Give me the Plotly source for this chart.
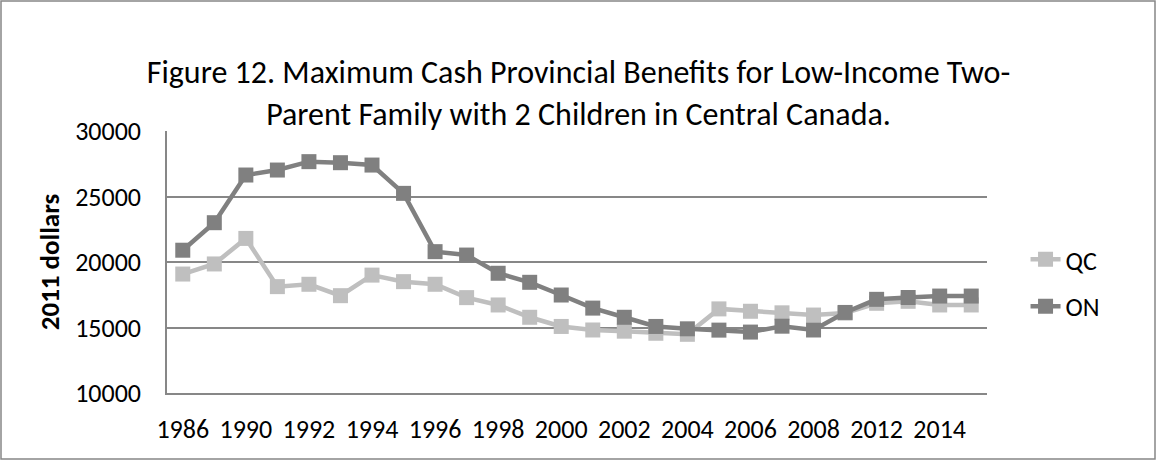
import plotly.graph_objects as go

# ── Data ───────────────────────────────────────────────────────────────────
YEARS = [
    "1986", "1988", "1990", "1991", "1992", "1993", "1994", "1995", "1996",
    "1997", "1998", "1999", "2000", "2001", "2002", "2003", "2004", "2005",
    "2006", "2007", "2008", "2010", "2012", "2013", "2014", "2015",
]
QC = [
    19080, 19850, 21800, 18120, 18300, 17430, 19000, 18500, 18300,
    17280, 16720, 15780, 15080, 14810, 14720, 14560, 14480, 16420,
    16240, 16120, 15950, 16100, 16850, 17000, 16720, 16720,
]
ON = [
    20900, 23000, 26640, 27020, 27660, 27580, 27400, 25240, 20790,
    20530, 19140, 18450, 17480, 16480, 15780, 15080, 14900, 14800,
    14650, 15100, 14810, 16150, 17150, 17290, 17400, 17400,
]
TICK_YEARS = YEARS[::2]

FONT = "Carlito, Lato, sans-serif"
QC_COL = "#bfbfbf"
ON_COL = "#808080"
AXIS_COL = "#878787"

fig = go.Figure()
for name, vals, col in [("QC", QC, QC_COL), ("ON", ON, ON_COL)]:
    fig.add_trace(go.Scatter(
        x=YEARS, y=vals, name=name, legendgroup=name, mode="lines+markers",
        line=dict(color=col, width=4.5),
        marker=dict(symbol="square", size=15, color=col),
    ))

fig.update_layout(
    width=1157, height=462,
    paper_bgcolor="white", plot_bgcolor="white",
    margin=dict(l=167, r=170, t=131, b=69),
    font=dict(family=FONT, color="black", size=26),
    title=dict(
        text="Figure 12. Maximum Cash Provincial Benefits for Low-Income Two-<br>"
             "Parent Family with 2 Children in Central Canada.",
        x=0.5, xanchor="center", y=1 - 83 / 462, yanchor="middle",
        font=dict(family=FONT, size=32, color="black"),
    ),
    xaxis=dict(
        type="category", tickvals=TICK_YEARS, ticktext=TICK_YEARS,
        showgrid=False, showline=True, linecolor=AXIS_COL, linewidth=1.5,
        ticks="", tickfont=dict(size=26), ticklabelstandoff=12,
        range=[-0.5, len(YEARS) - 0.5],
    ),
    yaxis=dict(
        range=[10000, 30000], dtick=5000, tickformat="d", showgrid=True,
        gridcolor=AXIS_COL, gridwidth=1.5, zeroline=False,
        showline=True, linecolor=AXIS_COL, linewidth=1.5,
        ticks="", tickfont=dict(size=26), ticklabelstandoff=19,
        title=dict(text="<b>2011 dollars</b>", font=dict(size=27), standoff=8),
    ),
    legend=dict(
        x=1.047, y=0.42, xanchor="left", yanchor="middle",
        font=dict(size=26), tracegroupgap=10, itemwidth=30,
        bgcolor="rgba(0,0,0,0)",
    ),
    showlegend=True,
)

# outer chart border
fig.add_shape(type="rect", xref="paper", yref="paper",
              x0=-166 / 820, x1=1 + 168 / 820, y0=-66 / 262, y1=1 + 130 / 262,
              line=dict(color=AXIS_COL, width=1.5))

fig.write_html("out.html", config={"displayModeBar": False},
               post_script="document.body.style.margin='0';")
